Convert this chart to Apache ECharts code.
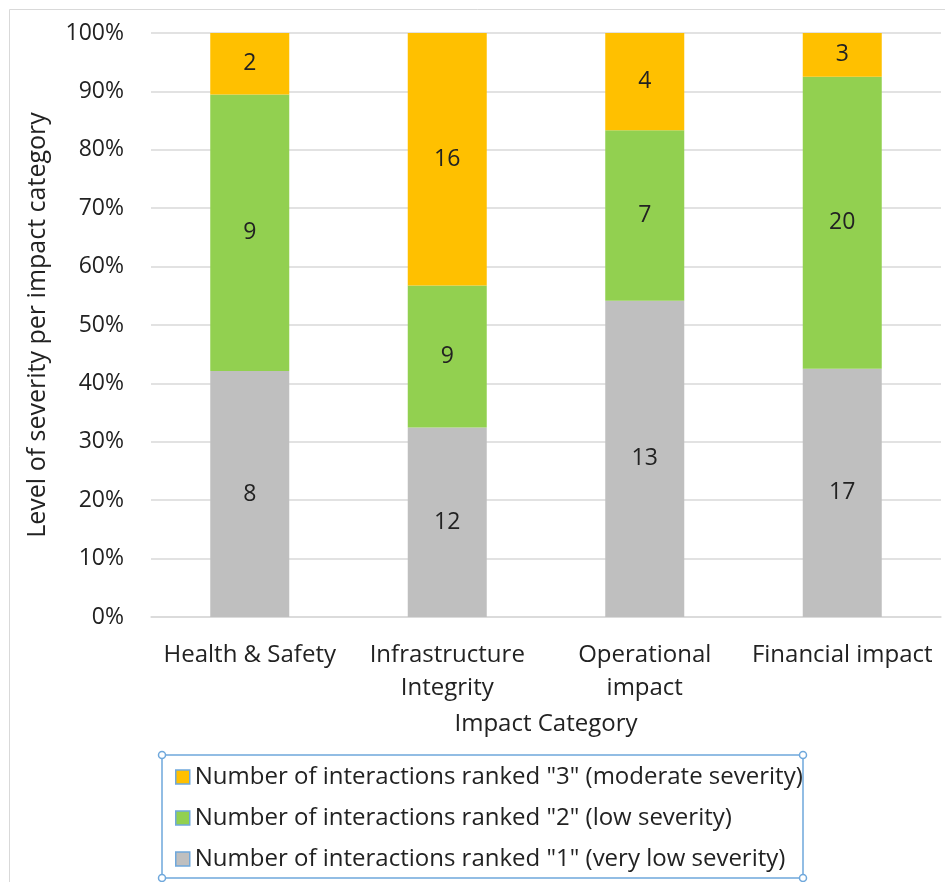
<!DOCTYPE html>
<html>
<head>
<meta charset="utf-8">
<script src="https://cdn.jsdelivr.net/npm/echarts@6/dist/echarts.min.js"></script>
<style>
  html, body { margin: 0; padding: 0; background: #fff; }
  #chart { width: 945px; height: 882px; }
</style>
</head>
<body>
<div id="chart"></div>
<script>
// counts per impact category
const categories = ['Health & Safety', 'Infrastructure\nIntegrity', 'Operational\nimpact', 'Financial impact']
const rank1 = [8, 12, 13, 17]
const rank2 = [9, 9, 7, 20]
const rank3 = [2, 16, 4, 3]
const yTicks = [0, 0.1, 0.2, 0.3, 0.4, 0.5, 0.6, 0.7, 0.8, 0.9, 1]

const names = [
  'Number of interactions ranked "1" (very low severity)',
  'Number of interactions ranked "2" (low severity)',
  'Number of interactions ranked "3" (moderate severity)'
]
const colors = ['#BFBFBF', '#92D050', '#FFC000']

const totals = categories.map((c, i) => rank1[i] + rank2[i] + rank3[i])
const toShare = arr => arr.map((v, i) => ({ value: v / totals[i], count: v }))

const font = 'Open Sans'
const chart = echarts.init(document.getElementById('chart'), null, { renderer: 'canvas' })

const series = [rank1, rank2, rank3].map((arr, k) => ({
  name: names[k],
  type: 'bar',
  stack: 'total',
  barWidth: '40%',
  itemStyle: { color: colors[k] },
  label: {
    show: true,
    position: 'inside',
    color: '#222',
    fontFamily: font,
    fontSize: 23,
    formatter: p => p.data.count
  },
  emphasis: { disabled: true },
  data: toShare(arr)
}))

chart.setOption({
  backgroundColor: '#fff',
  animation: false,
  textStyle: { fontFamily: font },
  grid: { left: 151, right: 4, top: 33, bottom: 265 },
  legend: {
    orient: 'vertical',
    left: 170,
    top: 760,
    itemGap: 17,
    itemWidth: 14,
    itemHeight: 14,
    icon: 'rect',
    data: [names[2], names[1], names[0]],
    itemStyle: { borderColor: '#6fa8dc', borderWidth: 1.5 },
    textStyle: { fontFamily: font, fontSize: 24, color: '#222' },
    selectedMode: false
  },
  xAxis: {
    type: 'category',
    data: categories,
    name: 'Impact Category',
    nameLocation: 'middle',
    nameGap: 95,
    nameTextStyle: { fontFamily: font, fontSize: 24, color: '#222' },
    axisLine: { lineStyle: { color: '#d9d9d9', width: 1.5 } },
    axisTick: { show: false },
    axisLabel: { fontFamily: font, fontSize: 24, color: '#222', margin: 22, lineHeight: 33, interval: 0 }
  },
  yAxis: {
    type: 'value',
    min: yTicks[0],
    max: yTicks[yTicks.length - 1],
    interval: 0.1,
    name: 'Level of severity per impact category',
    nameLocation: 'middle',
    nameGap: 101,
    nameRotate: 90,
    nameTextStyle: { fontFamily: font, fontSize: 25, color: '#222' },
    axisLine: { show: false },
    axisTick: { show: false },
    splitLine: { lineStyle: { color: '#d9d9d9', width: 1.5 } },
    axisLabel: {
      fontFamily: font, fontSize: 23, color: '#222', margin: 27,
      formatter: v => Math.round(v * 100) + '%'
    }
  },
  graphic: [
    // outer chart frame
    { type: 'rect', shape: { x: 9.5, y: 9.5, width: 1000, height: 1000 }, style: { fill: 'none', stroke: '#d9d9d9', lineWidth: 1 }, silent: true },
    // legend selection box
    { type: 'rect', shape: { x: 162, y: 755, width: 641, height: 123 }, style: { fill: 'none', stroke: '#6fa8dc', lineWidth: 1.5 }, silent: true },
    ...[[162, 755], [803, 755], [162, 878], [803, 878]].map(([x, y]) => ({
      type: 'circle', shape: { cx: x, cy: y, r: 3.5 }, style: { fill: '#fff', stroke: '#6fa8dc', lineWidth: 1.5 }, silent: true
    }))
  ],
  series
})
</script>
</body>
</html>
